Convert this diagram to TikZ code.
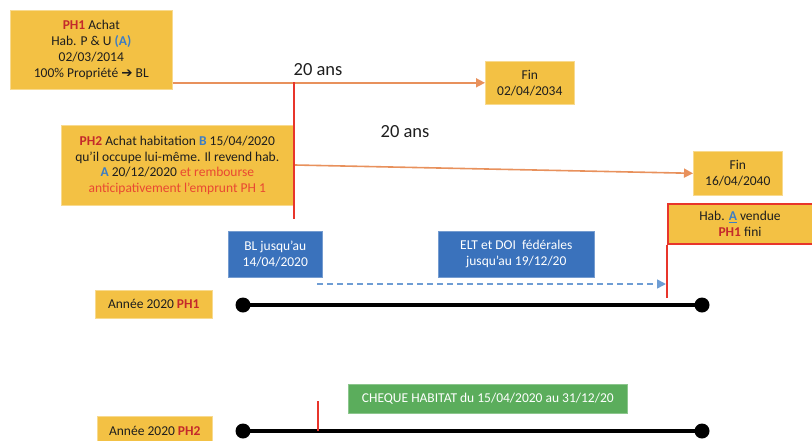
\documentclass[tikz,border=0pt]{standalone}
\usepackage{fontspec}
\setmainfont{Carlito}
\newfontfamily\dejavu{DejaVu Sans}
\usetikzlibrary{arrows.meta,calc}
\definecolor{gold}{HTML}{F3C144}
\definecolor{boxblue}{HTML}{3A72BC}
\definecolor{boxgreen}{HTML}{5BAD5C}
\definecolor{arrorange}{HTML}{E8915C}
\definecolor{linered}{HTML}{E8352B}
\definecolor{phred}{HTML}{C4292B}
\definecolor{txtblue}{HTML}{3D7DC4}
\definecolor{txtred}{HTML}{E94832}
\definecolor{dashblue}{HTML}{6E9DD4}
\definecolor{txtdark}{HTML}{1E1E1E}
\newcommand{\phr}[1]{\textcolor{phred}{\textbf{#1}}}
\newcommand{\tbl}[1]{\textcolor{txtblue}{\textbf{#1}}}
\begin{document}
\begin{tikzpicture}[x=1pt,y=-1pt,
  ybox/.style={fill=gold, draw=gold!60!white, line width=0.6pt, inner sep=0pt, align=center, text=txtdark,
    font=\fontsize{13.5}{15.8}\selectfont, anchor=north west},
  bbox/.style={fill=boxblue, draw=boxblue!70!white, line width=0.6pt, inner sep=0pt, align=center, text=white,
    font=\fontsize{13.5}{15.8}\selectfont, anchor=north west},
  gbox/.style={fill=boxgreen, draw=boxgreen!70!white, line width=0.6pt, inner sep=0pt, align=center, text=white,
    font=\fontsize{13.5}{15.8}\selectfont, anchor=north west},
  oarrow/.style={draw=arrorange, line width=1.6pt, -{Triangle[length=9pt,width=9pt]}},
  redline/.style={draw=linered, line width=2.4pt},
  tline/.style={draw=black, line width=4pt},
  dot/.style={circle, fill=black, inner sep=0pt, minimum size=15pt},
  anslabel/.style={font=\fontsize{18.5}{20}\selectfont, text=txtdark}
]
\useasboundingbox (0,0) rectangle (812,440);

% top boxes
\node[ybox, minimum width=162pt, minimum height=79pt] (ph1) at (10,10)
  {\phr{PH1} Achat\\Hab. P \& U \tbl{(A)}\\02/03/2014\\100\% Propriété {\dejavu\bfseries ➔} BL};
\node[ybox, minimum width=89pt, minimum height=43pt] (fin1) at (485,61) {Fin\\02/04/2034};
\node[ybox, minimum width=232pt, minimum height=80pt] (ph2) at (61,125)
  {\phr{PH2} Achat habitation \tbl{B} 15/04/2020\\qu’il occupe lui-même. Il revend hab.\\\tbl{A} 20/12/2020 \textcolor{txtred}{et rembourse}\\\textcolor{txtred}{anticipativement l’emprunt PH 1}};
\node[ybox, minimum width=89pt, minimum height=44pt] (fin2) at (693,151) {Fin\\16/04/2040};
\node[ybox, draw=linered, line width=2pt, minimum width=160pt, minimum height=40pt] (haba) at (667,203)
  {\hspace*{-16pt}Hab. \tbl{\underline{A}} vendue\\\hspace*{-16pt}\phr{PH1} fini};

\node[anslabel] (ans1) at (318,70) {20 ans};
\node[anslabel] (ans2) at (405,132) {20 ans};

% blue boxes
\node[bbox, minimum width=94pt, minimum height=46pt] (bl) at (228,231) {BL jusqu’au\\14/04/2020};
\node[bbox, minimum width=156pt, minimum height=46pt] (elt) at (438,231) {ELT et DOI \ fédérales\\jusqu’au 19/12/20};

% year labels
\node[ybox, minimum width=117pt, minimum height=28pt] (y1) at (95,290) {Année 2020 \phr{PH1}};
\node[ybox, minimum width=115pt, minimum height=30pt] (y2) at (97,416) {Année 2020 \phr{PH2}};

% green box
\node[gbox, minimum width=279pt, minimum height=29pt] (cheque) at (348,384) {CHEQUE HABITAT du 15/04/2020 au 31/12/20};

% coordinates
\coordinate (rtop) at (294,82);
\coordinate (rbot) at (294,219);
\coordinate (a2start) at (295,165);
\coordinate (dstart) at (317,284);
\coordinate (dend) at (666,284);
\coordinate (hbot) at (667,298);
\coordinate (tick1) at (318,401);
\coordinate (tick2) at (318,431);

% orange arrows
\draw[oarrow] (ph1.east |- fin1.west) -- (fin1.west);
\draw[oarrow] (a2start) -- (fin2.west);

% red lines
\draw[redline] (rtop) -- (rbot);
\draw[redline] (haba.south west) -- (hbot);

% dashed blue arrow
\draw[draw=dashblue, line width=1.6pt, dash pattern=on 6pt off 4pt, -{Triangle[length=9pt,width=9pt]}] (dstart) -- (dend);

% timelines
\node[dot] (d1) at (243,305) {};
\node[dot] (d2) at (702,305) {};
\draw[tline] (d1.center) -- (d2.center);
\node[dot] (d3) at (243,431) {};
\node[dot] (d4) at (702,431) {};
\draw[tline] (d3.center) -- (d4.center);
\draw[redline] (tick1) -- (tick2);
\end{tikzpicture}
\end{document}
